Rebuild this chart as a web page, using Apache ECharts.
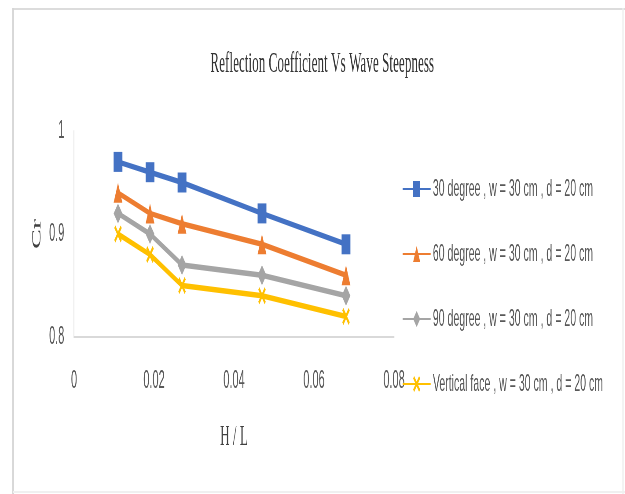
<!DOCTYPE html>
<html>
<head>
<meta charset="utf-8">
<script src="https://cdn.jsdelivr.net/npm/echarts@6/dist/echarts.min.js"></script>
<style>
  html, body { margin: 0; padding: 0; overflow: hidden; background: #fff; }
  #wrap { width: 625px; height: 494px; overflow: hidden; position: relative; }
  #chart { position: absolute; left: 0; top: 0; height: 494px; transform-origin: 0 0; }
</style>
</head>
<body>
<div id="wrap"><div id="chart"></div></div>
<script>
// Wave steepness H/L for each measured run
const steepness = [0.011, 0.019, 0.027, 0.047, 0.068];

// Reflection coefficient Cr per breakwater configuration
const seriesNames = [
  '30 degree , w = 30 cm , d = 20 cm',
  '60 degree , w = 30 cm , d = 20 cm',
  '90 degree , w = 30 cm , d = 20 cm',
  'Vertical face , w = 30 cm , d = 20 cm'
];
const cr30 = [0.97, 0.96, 0.95, 0.92, 0.89];
const cr60 = [0.94, 0.92, 0.91, 0.89, 0.86];
const cr90 = [0.92, 0.90, 0.87, 0.86, 0.84];
const crVertical = [0.90, 0.88, 0.85, 0.84, 0.82];

const xTicks = [0, 0.02, 0.04, 0.06, 0.08];
const yTicks = [0.8, 0.9, 1];

// Narrow rendering: the chart is laid out wide and compressed horizontally
const SX = 0.44;
const W = 625 / SX;
const px = v => v / SX;

const el = document.getElementById('chart');
el.style.width = W + 'px';
el.style.transform = 'scaleX(' + SX + ')';

const chart = echarts.init(el, null, { width: W, height: 494 });

const colors = ['#4472C4', '#ED7D31', '#A5A5A5', '#FFC000'];
const symbols = [
  'rect',
  'triangle',
  'diamond',
  'path://M0,1.5L1.5,0L5,3.5L8.5,0L10,1.5L6.5,5L10,8.5L8.5,10L5,6.5L1.5,10L0,8.5L3.5,5Z'
];
const values = [cr30, cr60, cr90, crVertical];

const series = values.map((vals, i) => ({
  name: seriesNames[i],
  type: 'line',
  data: steepness.map((x, j) => [x, vals[j]]),
  symbol: symbols[i],
  symbolSize: i === 3 ? 17 : 20,
  showSymbol: true,
  lineStyle: { width: 5.5, color: colors[i] },
  itemStyle: { color: colors[i] },
  emphasis: { disabled: true },
  animation: false
}));

const tickFont = 'Liberation Sans, Arial, sans-serif';
const serif = 'Liberation Serif, Times New Roman, serif';

chart.setOption({
  animation: false,
  title: {
    text: 'Reflection Coefficient Vs Wave Steepness',
    left: px(320),
    top: 44,
    textAlign: 'center',
    textStyle: { fontFamily: serif, fontSize: 30, fontWeight: 'normal', color: '#333' }
  },
  legend: {
    orient: 'vertical',
    left: px(400),
    top: 172,
    itemWidth: px(28),
    itemHeight: 20,
    itemGap: 41,
    data: seriesNames,
    textStyle: { fontFamily: tickFont, fontSize: 24, color: '#595959' }
  },
  grid: {
    left: px(74),
    right: W - px(394),
    top: 131,
    bottom: 494 - 337,
    containLabel: false
  },
  xAxis: {
    type: 'value',
    min: xTicks[0],
    max: xTicks[xTicks.length - 1],
    interval: 0.02,
    name: 'H / L',
    nameLocation: 'middle',
    nameGap: 85,
    nameTextStyle: { fontFamily: serif, fontSize: 30, color: '#404040' },
    axisLine: { show: true, lineStyle: { color: '#d9d9d9', width: 2 } },
    axisTick: { show: false },
    splitLine: { show: false },
    axisLabel: {
      margin: 32,
      fontFamily: tickFont,
      fontSize: 25,
      color: '#595959',
      formatter: v => String(parseFloat(v.toFixed(2)))
    }
  },
  yAxis: {
    type: 'value',
    min: yTicks[0],
    max: yTicks[yTicks.length - 1],
    interval: 0.1,
    name: 'Cr',
    nameLocation: 'middle',
    nameGap: 69,
    nameTextStyle: { fontFamily: serif, fontSize: 30, color: '#404040' },
    axisLine: { show: true, lineStyle: { color: '#e3e3e3', width: 2 } },
    axisTick: { show: false },
    splitLine: { show: false },
    axisLabel: {
      margin: 22,
      fontFamily: tickFont,
      fontSize: 25,
      color: '#595959',
      formatter: v => String(parseFloat(v.toFixed(1)))
    }
  },
  graphic: [
    { type: 'line', silent: true, shape: { x1: px(12), y1: 9, x2: W, y2: 9 }, style: { stroke: '#dcdcdc', lineWidth: 2 } },
    { type: 'line', silent: true, shape: { x1: px(13), y1: 8, x2: px(13), y2: 494 }, style: { stroke: '#d6d6d6', lineWidth: 4 } },
    { type: 'line', silent: true, shape: { x1: px(623), y1: 8, x2: px(623), y2: 494 }, style: { stroke: '#eeeeee', lineWidth: 3 } },
    { type: 'line', silent: true, shape: { x1: px(13), y1: 492, x2: W, y2: 492 }, style: { stroke: '#f0f0f0', lineWidth: 2 } }
  ],
  series: series
});
</script>
</body>
</html>
